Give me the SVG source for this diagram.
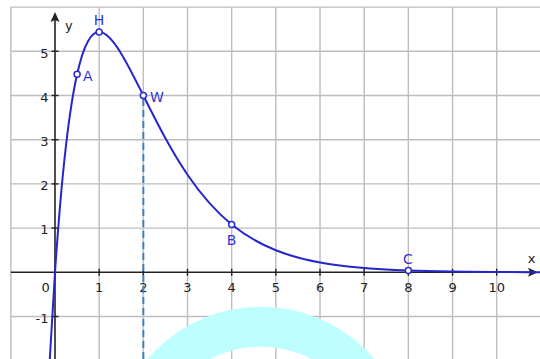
<svg xmlns="http://www.w3.org/2000/svg" width="540" height="359" viewBox="0 0 540 359">
<defs>
<style>
.grid line{stroke:#bdbdbd;stroke-width:1.4}
.axis{stroke:#222;stroke-width:1.6;fill:none}
.tick{stroke:#222;stroke-width:1.4}
.num{font-family:"DejaVu Sans",sans-serif;font-size:13px;fill:#222}
.lbl{font-family:"DejaVu Sans",sans-serif;font-size:14px;fill:#3434d0}
.pt{fill:#fff;stroke:#2a2ad0;stroke-width:1.5}
.curve{fill:none;stroke:#2626cc;stroke-width:2}
.dash{fill:none;stroke:#3d80c6;stroke-width:2;stroke-dasharray:7 4}
</style>
<clipPath id="gclip"><rect x="10" y="6" width="530" height="353"/></clipPath>
</defs>
<rect width="540" height="359" fill="#fff"/>
<g class="grid" id="grid">
<line x1="10.83" y1="7.1" x2="10.83" y2="359"/>
<line x1="99.17" y1="7.1" x2="99.17" y2="359"/>
<line x1="143.34" y1="7.1" x2="143.34" y2="359"/>
<line x1="187.51" y1="7.1" x2="187.51" y2="359"/>
<line x1="231.68" y1="7.1" x2="231.68" y2="359"/>
<line x1="275.85" y1="7.1" x2="275.85" y2="359"/>
<line x1="320.02" y1="7.1" x2="320.02" y2="359"/>
<line x1="364.19" y1="7.1" x2="364.19" y2="359"/>
<line x1="408.36" y1="7.1" x2="408.36" y2="359"/>
<line x1="452.53" y1="7.1" x2="452.53" y2="359"/>
<line x1="496.7" y1="7.1" x2="496.7" y2="359"/>
<line x1="10.83" y1="7.1" x2="540" y2="7.1"/>
<line x1="10.83" y1="51.3" x2="540" y2="51.3"/>
<line x1="10.83" y1="95.5" x2="540" y2="95.5"/>
<line x1="10.83" y1="139.7" x2="540" y2="139.7"/>
<line x1="10.83" y1="183.9" x2="540" y2="183.9"/>
<line x1="10.83" y1="228.1" x2="540" y2="228.1"/>
<line x1="10.83" y1="316.5" x2="540" y2="316.5"/>
</g>
<circle id="arc" cx="261" cy="456" r="129.3" fill="none" stroke="#bffefe" stroke-width="40"/>
<g id="axes">
<line class="axis" x1="10.83" y1="272.3" x2="531" y2="272.3"/>
<path d="M538,272.3 L528,267.8 L530,272.3 L528,276.8 Z" fill="#222"/>
<line class="axis" x1="55" y1="359" x2="55" y2="20"/>
<path d="M55,12 L50.5,22 L55,20 L59.5,22 Z" fill="#222"/>
<g class="tick">
<line x1="99.17" y1="268.8" x2="99.17" y2="275.8"/>
<line x1="143.34" y1="268.8" x2="143.34" y2="275.8"/>
<line x1="187.51" y1="268.8" x2="187.51" y2="275.8"/>
<line x1="231.68" y1="268.8" x2="231.68" y2="275.8"/>
<line x1="275.85" y1="268.8" x2="275.85" y2="275.8"/>
<line x1="320.02" y1="268.8" x2="320.02" y2="275.8"/>
<line x1="364.19" y1="268.8" x2="364.19" y2="275.8"/>
<line x1="408.36" y1="268.8" x2="408.36" y2="275.8"/>
<line x1="452.53" y1="268.8" x2="452.53" y2="275.8"/>
<line x1="496.7" y1="268.8" x2="496.7" y2="275.8"/>
<line x1="51.5" y1="51.3" x2="58.5" y2="51.3"/>
<line x1="51.5" y1="95.5" x2="58.5" y2="95.5"/>
<line x1="51.5" y1="139.7" x2="58.5" y2="139.7"/>
<line x1="51.5" y1="183.9" x2="58.5" y2="183.9"/>
<line x1="51.5" y1="228.1" x2="58.5" y2="228.1"/>
<line x1="51.5" y1="316.5" x2="58.5" y2="316.5"/>
</g>
<g class="num" text-anchor="middle">
<text x="45.7" y="292">0</text>
<text x="99.17" y="292">1</text>
<text x="143.34" y="292">2</text>
<text x="187.51" y="292">3</text>
<text x="231.68" y="292">4</text>
<text x="275.85" y="292">5</text>
<text x="320.02" y="292">6</text>
<text x="364.19" y="292">7</text>
<text x="408.36" y="292">8</text>
<text x="452.53" y="292">9</text>
<text x="496.7" y="292">10</text>
</g>
<g class="num" text-anchor="end">
<text x="48.5" y="57.8">5</text>
<text x="48.5" y="102">4</text>
<text x="48.5" y="146.2">3</text>
<text x="48.5" y="190.4">2</text>
<text x="48.5" y="234">1</text>
<text x="48.5" y="322.5">-1</text>
</g>
<text class="num" x="531.5" y="263" text-anchor="middle" font-size="14">x</text>
<text class="num" x="65" y="30" font-size="14">y</text>
</g>
<g id="connectors">
<line id="dashW" class="dash" x1="143.34" y1="99" x2="143.34" y2="359"/>
<path id="graph" class="curve" d="M49.70,360.66 C51.47,327.67 53.23,298.43 55,272.3 C58.68,217.87 62.36,176.89 66.04,145.09 C69.72,113.29 73.41,90.72 77.09,74.21 C80.77,57.70 84.45,47.32 88.13,40.89 C91.81,34.46 95.49,32.00 99.17,32.00 C106.53,32.00 113.90,41.53 121.26,53.68 C128.62,65.83 135.98,80.77 143.34,95.5 C150.70,110.23 158.07,124.85 165.43,138.25 C172.79,151.65 180.15,163.90 187.51,174.74 C202.23,196.42 216.96,212.49 231.68,224.45 C246.40,236.41 261.13,244.42 275.85,250.29 C290.57,256.16 305.30,259.89 320.02,262.59 C349.47,267.99 378.91,269.53 408.36,270.55 C451.06,272.03 493.75,272.05 536.45,272.17 L540,272.2"/>
</g>
<g id="A"><circle class="pt" cx="77.09" cy="74.21" r="3"/><text class="lbl" x="83" y="81">A</text></g>
<g id="H"><circle class="pt" cx="99.17" cy="32" r="3"/><text class="lbl" x="99" y="25" text-anchor="middle">H</text></g>
<g id="W"><circle class="pt" cx="143.34" cy="95.5" r="3"/><text class="lbl" x="150" y="101.5">W</text></g>
<g id="B"><circle class="pt" cx="231.68" cy="224.45" r="3"/><text class="lbl" x="231.5" y="245" text-anchor="middle">B</text></g>
<g id="C"><circle class="pt" cx="408.36" cy="270.55" r="3"/><text class="lbl" x="408" y="264" text-anchor="middle">C</text></g>
</svg>
